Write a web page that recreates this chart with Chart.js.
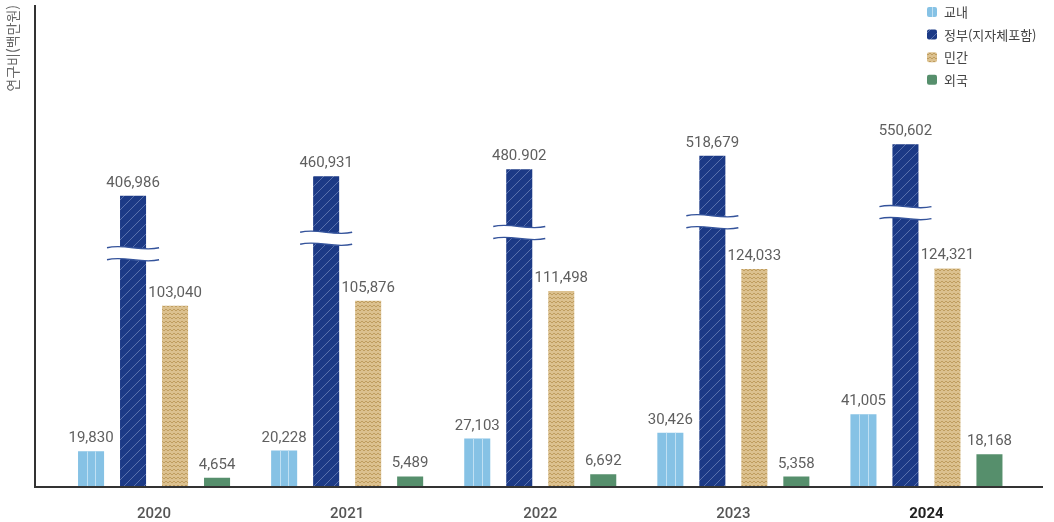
<!DOCTYPE html>
<html lang="ko">
<head>
<meta charset="utf-8">
<title>연구비 추이</title>
<script src="https://cdn.jsdelivr.net/npm/chart.js@4.4.1/dist/chart.umd.min.js"></script>
<style>
  html, body { margin: 0; padding: 0; background: #fff; }
  #wrap { position: relative; width: 1054px; height: 522px; }
</style>
</head>
<body>
<div id="wrap"><canvas id="rndChart"></canvas></div>
<script>
const years = ["2020", "2021", "2022", "2023", "2024"];
const seriesNames = ["교내", "정부(지자체포함)", "민간", "외국"];
const campus = [19830, 20228, 27103, 30426, 41005];
const government = [406986, 460931, 480902, 518679, 550602];
const privateSector = [103040, 105876, 111498, 124033, 124321];
const foreign = [4654, 5489, 6692, 5358, 18168];
// the source prints the 2022 government figure with a period
const governmentText = ["406,986", "460,931", "480.902", "518,679", "550,602"];

// linear scale with a cut between gap.from and gap.to; above the cut it is compressed by gap.ratio
class BrokenLinearScale extends Chart.LinearScale {
  toUnits(v) {
    const b = this.options.gap;
    if (v <= b.from) return v;
    if (v < b.to) return b.from;
    return b.from + (v - b.to) * b.ratio;
  }
  fromUnits(u) {
    const b = this.options.gap;
    if (u <= b.from) return u;
    return b.to + (u - b.from) / b.ratio;
  }
  getPixelForValue(value) {
    const u0 = this.toUnits(this.min);
    const u1 = this.toUnits(this.max);
    return this.getPixelForDecimal((this.toUnits(value) - u0) / (u1 - u0));
  }
  getValueForPixel(pixel) {
    const u0 = this.toUnits(this.min);
    const u1 = this.toUnits(this.max);
    return this.fromUnits(u0 + this.getDecimalForPixel(pixel) * (u1 - u0));
  }
}
BrokenLinearScale.id = "brokenLinear";
BrokenLinearScale.defaults = {};
Chart.register(BrokenLinearScale);

const canvas = document.getElementById("rndChart");
const mainCtx = canvas.getContext("2d");

function makePattern(w, h, paint) {
  const c = document.createElement("canvas");
  c.width = w;
  c.height = h;
  paint(c.getContext("2d"), w, h);
  return mainCtx.createPattern(c, "repeat");
}

const hatchNavy = makePattern(10, 10, (g, w, h) => {
  g.fillStyle = "#1c3a86";
  g.fillRect(0, 0, w, h);
  g.strokeStyle = "rgba(200, 212, 240, 0.45)";
  g.lineWidth = 0.8;
  g.beginPath();
  g.moveTo(-1, h + 1); g.lineTo(w + 1, -1);
  g.moveTo(-1, 1); g.lineTo(1, -1);
  g.moveTo(w - 1, h + 1); g.lineTo(w + 1, h - 1);
  g.stroke();
});

const zigzagTan = makePattern(4, 4, (g, w, h) => {
  g.fillStyle = "#dcc18f";
  g.fillRect(0, 0, w, h);
  g.strokeStyle = "#bf9d5f";
  g.lineWidth = 1;
  g.beginPath();
  g.moveTo(0, 3); g.lineTo(2, 1); g.lineTo(4, 3);
  g.stroke();
});

const campusColor = "#86c2e5";
const campusLine = "#c0e0f3";
const breakColor = "#34539b";

function barValueText(ds, i) {
  if (ds.valueText) return ds.valueText[i];
  return ds.data[i].toLocaleString("en-US");
}

const axisLines = {
  id: "axisLines",
  afterDatasetsDraw(chart) {
    const { ctx, chartArea } = chart;
    const x0 = Math.round(chartArea.left) - 24;
    ctx.save();
    ctx.fillStyle = "#333";
    ctx.fillRect(x0, Math.round(chartArea.top), 2, Math.round(chartArea.bottom - chartArea.top) + 2);
    ctx.fillRect(x0, Math.round(chartArea.bottom), Math.round(chartArea.right) + 20 - x0, 2);
    ctx.restore();
  },
};

const barDecor = {
  id: "barDecor",
  afterDatasetsDraw(chart) {
    const ctx = chart.ctx;
    ctx.save();
    // thin column lines on the campus bars
    chart.getDatasetMeta(0).data.forEach((bar) => {
      const left = bar.x - bar.width / 2;
      ctx.fillStyle = campusLine;
      ctx.fillRect(Math.round(left + bar.width / 3), bar.y, 1, bar.base - bar.y);
      ctx.fillRect(Math.round(left + (2 * bar.width) / 3), bar.y, 1, bar.base - bar.y);
    });
    // wavy break marks on the government bars
    chart.getDatasetMeta(1).data.forEach((bar) => {
      const yc = bar.y + 0.2 * (bar.base - bar.y);
      const x0 = bar.x - bar.width / 2 - 13;
      const x1 = bar.x + bar.width / 2 + 13;
      const L = x1 - x0;
      const gap = 12;
      const wave = (y) => {
        ctx.moveTo(x0, y);
        ctx.bezierCurveTo(x0 + L / 3, y - 4.5, x0 + (2 * L) / 3, y + 4.5, x1, y);
      };
      const yTop = yc - gap / 2;
      const yBot = yc + gap / 2;
      ctx.beginPath();
      ctx.moveTo(x0, yTop);
      ctx.bezierCurveTo(x0 + L / 3, yTop - 4.5, x0 + (2 * L) / 3, yTop + 4.5, x1, yTop);
      ctx.lineTo(x1, yBot);
      ctx.bezierCurveTo(x0 + (2 * L) / 3, yBot + 4.5, x0 + L / 3, yBot - 4.5, x0, yBot);
      ctx.closePath();
      ctx.fillStyle = "#fff";
      ctx.fill();
      ctx.beginPath();
      wave(yTop);
      wave(yBot);
      ctx.strokeStyle = breakColor;
      ctx.lineWidth = 1.4;
      ctx.stroke();
    });
    // value labels above every bar
    ctx.font = "15px Roboto";
    ctx.fillStyle = "#5f5f5f";
    ctx.textAlign = "center";
    ctx.textBaseline = "alphabetic";
    chart.data.datasets.forEach((ds, di) => {
      chart.getDatasetMeta(di).data.forEach((bar, i) => {
        ctx.fillText(barValueText(ds, i), bar.x, bar.y - 9);
      });
    });
    ctx.restore();
  },
};

const cornerLegend = {
  id: "cornerLegend",
  afterDraw(chart) {
    const ctx = chart.ctx;
    const boxX = chart.width - 127;
    ctx.save();
    ctx.font = "13px 'Noto Sans CJK KR'";
    ctx.textBaseline = "middle";
    ctx.textAlign = "left";
    chart.data.datasets.forEach((ds, i) => {
      const y = 12 + i * 22.6;
      ctx.fillStyle = ds.backgroundColor;
      ctx.beginPath();
      ctx.roundRect(boxX, y - 5, 10, 10, 2);
      ctx.fill();
      if (i === 0) {
        ctx.fillStyle = campusLine;
        ctx.fillRect(boxX + 5, y - 5, 1, 10);
      }
      ctx.fillStyle = "#444";
      ctx.fillText(ds.label, boxX + 17, y);
    });
    ctx.restore();
  },
};

new Chart(mainCtx, {
  type: "bar",
  data: {
    labels: years,
    datasets: [
      { label: seriesNames[0], data: campus, backgroundColor: campusColor },
      { label: seriesNames[1], data: government, backgroundColor: hatchNavy, valueText: governmentText },
      { label: seriesNames[2], data: privateSector, backgroundColor: zigzagTan },
      { label: seriesNames[3], data: foreign, backgroundColor: "#568f6c" },
    ],
  },
  options: {
    responsive: true,
    maintainAspectRatio: false,
    animation: false,
    devicePixelRatio: 1,
    layout: { padding: { left: 0, right: 31, top: 5, bottom: 0 } },
    datasets: {
      bar: { barPercentage: 0.62, categoryPercentage: 0.87 },
    },
    plugins: {
      legend: { display: false },
      tooltip: { enabled: false },
    },
    scales: {
      x: {
        grid: { display: false, drawTicks: false },
        border: { display: false },
        afterFit: (scale) => { scale.height = 36; },
        ticks: {
          padding: 19,
          font: (c) => ({ family: "Roboto", size: 15, weight: c.index === 4 ? "bold" : "500" }),
          color: (c) => (c.index === 4 ? "#222" : "#555"),
        },
      },
      y: {
        type: "brokenLinear",
        min: 0,
        max: 939400,
        gap: { from: 130000, to: 231400, ratio: 0.2046 },
        grid: { display: false, drawTicks: false },
        border: { display: false },
        ticks: { display: false },
        title: {
          display: true,
          text: "연구비(백만원)",
          align: "end",
          color: "#666",
          font: { family: "'Noto Sans CJK KR'", size: 14 },
          padding: { top: 4, bottom: 36.7 },
        },
      },
    },
  },
  plugins: [axisLines, barDecor, cornerLegend],
});
</script>
</body>
</html>
